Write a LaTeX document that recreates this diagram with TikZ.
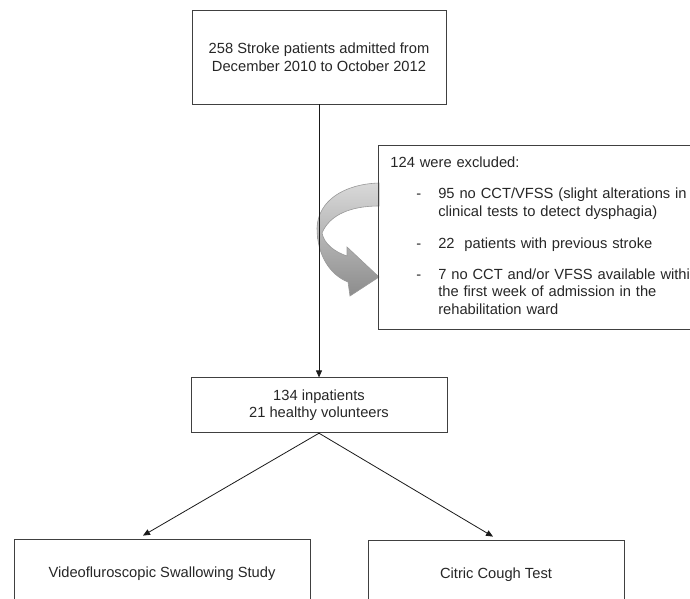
\documentclass[tikz,border=0pt]{standalone}
\usepackage{fontspec}
\setmainfont{Liberation Sans}
\usepackage{xcolor}
\usetikzlibrary{arrows.meta,positioning}

\begin{document}
\begin{tikzpicture}[
  x=1pt, y=-1pt,
  every node/.style={font=\fontsize{14.7}{17.5}\selectfont, text=black!85},
  box/.style={draw=black!75, line width=0.8pt, align=center, inner sep=0pt},
  arrow/.style={-{Triangle[width=6pt,length=7pt]}, line width=0.8pt, draw=black!90}
]
\clip (0,0) rectangle (690,599);
% curved exclusion arrow
\shade[top color=black!15, bottom color=black!45, draw=black!40, line width=0.6pt]
  (379,183) .. controls (345,184) and (318,200) .. (317,228)
  .. controls (317,255) and (330,275) .. (348,282)
  -- (350,296) -- (379,277) -- (347,247) -- (347,256)
  .. controls (335,252) and (324,244) .. (322,233)
  .. controls (330,214) and (352,206) .. (379,206) -- cycle;
\node[box, minimum width=254pt, minimum height=94pt] (admitted) at (319,57)
  {258 Stroke patients admitted from\\December 2010 to October 2012};
\node[box, minimum width=256pt, minimum height=55pt, below=273pt of admitted] (cohort)
  {134 inpatients\\21 healthy volunteers};
\node[box, anchor=north west, text width=316pt, minimum height=184pt, align=left, inner xsep=12pt] (excluded) at (378,145)
  {\begin{tabular}{@{}@{\hspace{26pt}}l@{\hspace{17pt}}l@{}}
   \multicolumn{2}{@{}l@{}}{124 were excluded:}\\[14pt]
   - & 95 no CCT/VFSS (slight alterations in\\
     & clinical tests to detect dysphagia)\\[15pt]
   - & 22\ \ patients with previous stroke\\[13pt]
   - & 7 no CCT and/or VFSS available within\\
     & the first week of admission in the\\
     & rehabilitation ward
   \end{tabular}};
\node[box, minimum width=296pt, minimum height=70pt] (vfss) at (162,574)
  {Videofluroscopic Swallowing Study};
\node[box, minimum width=256pt, minimum height=70pt] (cct) at (496,575)
  {Citric Cough Test};
% connectors
\draw[arrow] (admitted.south) -- (cohort.north);
\draw[arrow] (cohort.south) -- ([xshift=-19pt,yshift=3pt]vfss.north);
\draw[arrow] (cohort.south) -- ([xshift=-3pt,yshift=3pt]cct.north);
\end{tikzpicture}
\end{document}
